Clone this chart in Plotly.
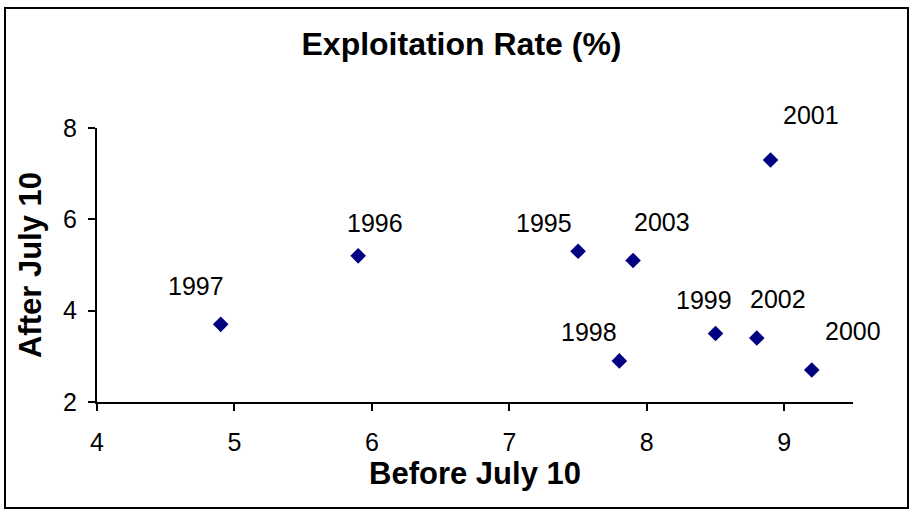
import plotly.graph_objects as go

years = ["1995", "1996", "1997", "1998", "1999", "2000", "2001", "2002", "2003"]
before = [7.5, 5.9, 4.9, 7.8, 8.5, 9.2, 8.9, 8.8, 7.9]
after = [5.3, 5.2, 3.7, 2.9, 3.5, 2.7, 7.3, 3.4, 5.1]

# label pixel offsets (style only)
label_dx = [-34, 17, -25, -30, -12, 41, 40, 21, 29]
label_dy = [28, 33, 38, 29, 34, 39, 45, 39, 38]

FONT = "Liberation Sans, Arial, sans-serif"

fig = go.Figure()
fig.add_trace(go.Scatter(
    x=before, y=after, mode="markers",
    marker=dict(symbol="diamond", size=12, color="#000080"),
    cliponaxis=False, showlegend=False,
))

for yr, x, y, dx, dy in zip(years, before, after, label_dx, label_dy):
    fig.add_annotation(x=x, y=y, text=yr, showarrow=False,
                       xshift=dx, yshift=dy,
                       font=dict(family=FONT, size=25, color="black"))

# outer border (pixel box 5..908 x 8..508 mapped to paper coords)
L, R, T, B = 97, 70, 128, 112
pw, ph = 923 - L - R, 514 - T - B
fig.add_shape(type="rect", xref="paper", yref="paper",
              x0=(5 - L) / pw, x1=(908 - L) / pw,
              y0=(514 - B - 508) / ph, y1=(514 - B - 8) / ph,
              line=dict(color="black", width=2))

fig.update_layout(
    width=923, height=514,
    margin=dict(l=L, r=R, t=T, b=B),
    plot_bgcolor="white", paper_bgcolor="white",
    font=dict(family=FONT, size=25, color="black"),
    title=dict(text="<b>Exploitation Rate (%)</b>", x=0.5, xanchor="center",
               y=1 - 44 / 514, yanchor="middle",
               font=dict(family=FONT, size=32, color="black")),
)
fig.update_xaxes(range=[4, 9.5], tickvals=[4, 5, 6, 7, 8, 9],
                 showline=True, linecolor="black", linewidth=2,
                 ticks="outside", ticklen=7, tickwidth=2, tickcolor="black",
                 showgrid=False, zeroline=False, ticklabelstandoff=10,
                 title=dict(text="<b>Before July 10</b>", standoff=4,
                            font=dict(family=FONT, size=31)))
fig.update_yaxes(range=[2, 8], tickvals=[2, 4, 6, 8],
                 showline=True, linecolor="black", linewidth=2,
                 ticks="outside", ticklen=7, tickwidth=2, tickcolor="black",
                 showgrid=False, zeroline=False, ticklabelstandoff=6,
                 title=dict(text="<b>After July 10</b>", standoff=12,
                            font=dict(family=FONT, size=31)))

fig.write_html("out.html", config={"displayModeBar": False},
               post_script="document.body.style.margin='0';")
